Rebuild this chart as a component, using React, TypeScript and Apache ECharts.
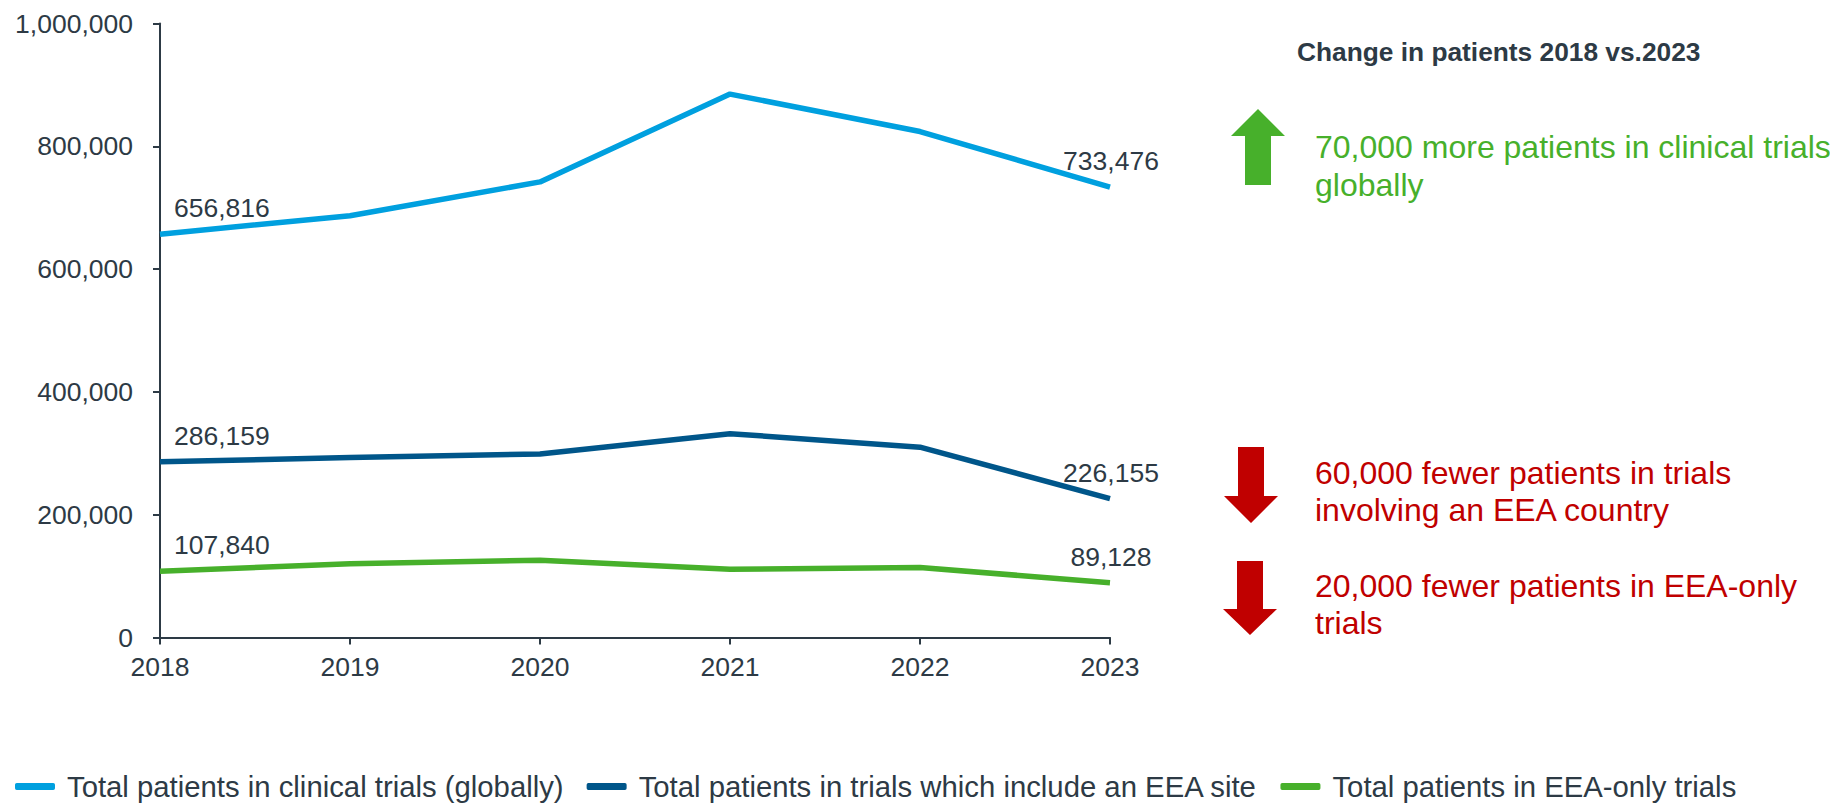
import React, { useEffect, useRef } from "react";
import * as echarts from "echarts";

const years = ["2018", "2019", "2020", "2021", "2022", "2023"];
const globalTotal = [656816, 687000, 742000, 885000, 824000, 733476];
const eeaSite = [286159, 293000, 299000, 332000, 310000, 226155];
const eeaOnly = [107840, 120000, 126000, 111000, 114000, 89128];
const seriesNames = [
  "Total patients in clinical trials (globally)",
  "Total patients in trials which include an EEA site",
  "Total patients in EEA-only trials",
];
const seriesColors = ["#00A0DF", "#00568A", "#47B02B"];
const annotationTitle = "Change in patients 2018 vs.2023";
const annotations = [
  "70,000 more patients in clinical trials\nglobally",
  "60,000 fewer patients in trials\ninvolving an EEA country",
  "20,000 fewer patients in EEA-only\ntrials",
];

const TEXT = "#2D3A45";
const FONT = "'Liberation Sans', Arial, sans-serif";
const RED = "#C00000";
const TICK_FS = 26.5;

const fmt = (v: number) => v.toLocaleString("en-US");

function buildData(values: number[]) {
  const last = values.length - 1;
  return values.map((v, i) => {
    if (i === 0) {
      return {
        value: v,
        label: {
          show: true,
          position: "top",
          distance: 0,
          align: "left",
          verticalAlign: "middle",
          offset: [14, -26],
        },
      };
    }
    if (i === last) {
      return {
        value: v,
        label: {
          show: true,
          position: "top",
          distance: 0,
          align: "center",
          verticalAlign: "middle",
          offset: [1, -26],
        },
      };
    }
    return v;
  });
}

export default function App() {
  const ref = useRef<HTMLDivElement>(null);
  useEffect(() => {
    if (!ref.current) return;
    const chart = echarts.init(ref.current, undefined, { renderer: "svg" });
    const allSeries = [globalTotal, eeaSite, eeaOnly].map((vals, k) => ({
      name: seriesNames[k],
      type: "line",
      data: buildData(vals),
      showSymbol: true,
      symbol: "circle",
      symbolSize: 0,
      lineStyle: { width: 5.5, color: seriesColors[k], cap: "butt" },
      itemStyle: { color: seriesColors[k] },
      label: {
        show: false,
        color: TEXT,
        fontSize: TICK_FS,
        fontFamily: FONT,
        formatter: (p: any) => fmt(p.value),
      },
      emphasis: { disabled: true },
    }));

    const arrowUp = [
      [1258, 109],
      [1285, 136],
      [1271, 136],
      [1271, 185],
      [1245, 185],
      [1245, 136],
      [1231, 136],
    ];
    const arrowDown = (top: number, headY: number, tip: number, l: number, r: number, hl: number, hr: number) => {
      const cx = (hl + hr) / 2;
      return [
        [l, top],
        [r, top],
        [r, headY],
        [hr, headY],
        [cx, tip],
        [hl, headY],
        [l, headY],
      ];
    };

    chart.setOption({
      animation: false,
      textStyle: { fontFamily: FONT },
      grid: { left: 160, right: 720, top: 23.5, bottom: 165.5, containLabel: false },
      legend: {
        data: seriesNames,
        left: 10,
        top: 767,
        icon: "roundRect",
        itemWidth: 40,
        itemHeight: 7,
        itemGap: 23,
        textStyle: { fontSize: 29.3, color: TEXT, fontFamily: FONT, padding: [0, 0, 0, 7] },
      },
      xAxis: {
        type: "category",
        data: years,
        boundaryGap: false,
        axisLine: { lineStyle: { color: TEXT, width: 2 } },
        axisTick: { show: true, length: 7, lineStyle: { color: TEXT, width: 2 } },
        axisLabel: { color: TEXT, fontSize: TICK_FS, fontFamily: FONT, margin: 16 },
        splitLine: { show: false },
      },
      yAxis: {
        type: "value",
        min: 0,
        max: 1000000,
        interval: 200000,
        axisLine: { show: true, lineStyle: { color: TEXT, width: 2 } },
        axisTick: { show: true, length: 7, lineStyle: { color: TEXT, width: 2 } },
        axisLabel: { color: TEXT, fontSize: TICK_FS, fontFamily: FONT, margin: 27, formatter: (v: number) => fmt(v) },
        splitLine: { show: false },
      },
      series: allSeries,
      graphic: [
        {
          type: "text",
          x: 1297,
          y: 52,
          style: {
            text: annotationTitle,
            fill: TEXT,
            fontSize: 26.3,
            fontWeight: "bold",
            fontFamily: FONT,
            verticalAlign: "middle",
            align: "left",
          },
        },
        { type: "polygon", shape: { points: arrowUp }, style: { fill: seriesColors[2] } },
        {
          type: "text",
          x: 1315,
          y: 166,
          style: {
            text: annotations[0],
            fill: seriesColors[2],
            fontSize: 32,
            lineHeight: 38,
            fontFamily: FONT,
            verticalAlign: "middle",
            align: "left",
          },
        },
        { type: "polygon", shape: { points: arrowDown(447, 496, 523, 1238, 1264, 1224, 1278) }, style: { fill: RED } },
        {
          type: "text",
          x: 1315,
          y: 491,
          style: {
            text: annotations[1],
            fill: RED,
            fontSize: 32,
            lineHeight: 37,
            fontFamily: FONT,
            verticalAlign: "middle",
            align: "left",
          },
        },
        { type: "polygon", shape: { points: arrowDown(561, 609, 635, 1237, 1263, 1223, 1277) }, style: { fill: RED } },
        {
          type: "text",
          x: 1315,
          y: 604,
          style: {
            text: annotations[2],
            fill: RED,
            fontSize: 32,
            lineHeight: 37,
            fontFamily: FONT,
            verticalAlign: "middle",
            align: "left",
          },
        },
      ],
    });
    return () => chart.dispose();
  }, []);
  return (
    <div
      ref={ref}
      style={{ position: "fixed", left: 0, top: 0, width: 1830, height: 803, background: "#fff" }}
    />
  );
}
